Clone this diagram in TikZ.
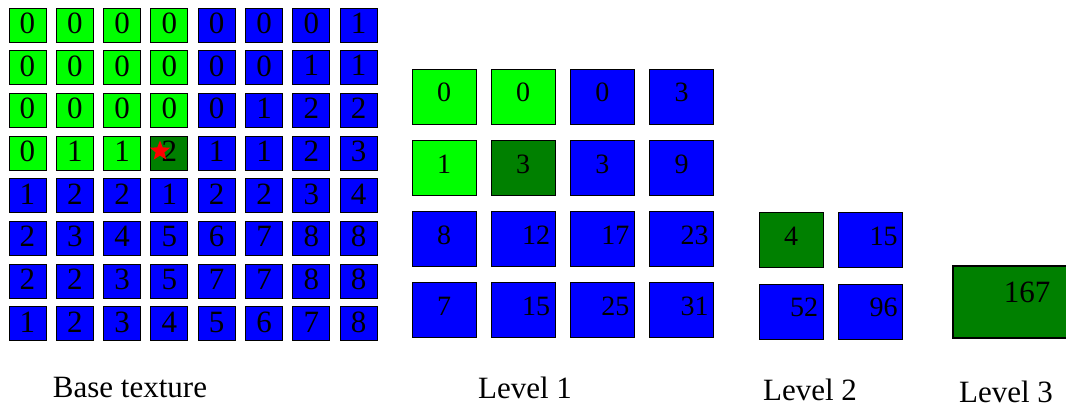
\documentclass[tikz,border=0pt]{standalone}
\usepackage{fontspec}
\setmainfont{Liberation Serif}
\usepackage{tikz}
\usetikzlibrary{shapes.geometric}
\definecolor{texgreen}{HTML}{00FF00}
\definecolor{texblue} {HTML}{0000FF}
\definecolor{texhit}  {HTML}{008000}
\tikzset{
  basecell/.style={draw=black, line width=0.9pt, minimum width=37pt, minimum height=34pt,
                   inner sep=0pt, text depth=4pt, font=\fontsize{31}{31}\selectfont},
  lvcell/.style={draw=black, line width=0.9pt, minimum width=64pt, minimum height=55pt,
                 inner sep=0pt, text depth=8pt, font=\fontsize{28}{28}\selectfont},
  topcell/.style={lvcell, line width=1.6pt, minimum width=160pt, minimum height=72pt,
                  text depth=20pt, font=\fontsize{31}{31}\selectfont},
  lvlabel/.style={anchor=base, font=\fontsize{31}{31}\selectfont},
}
\newcommand{\lvnum}[1]{\ifnum#1>9 \hspace*{26pt}\fi#1}

\begin{document}
\begin{tikzpicture}[x=1pt, y=-1pt]
  \useasboundingbox (0,0) rectangle (1066,408);

  % base texture
  \foreach \vals [count=\r] in {{0,0,0,0,0,0,0,1},{0,0,0,0,0,0,1,1},{0,0,0,0,0,1,2,2},
                                {0,1,1,2,1,1,2,3},{1,2,2,1,2,2,3,4},{2,3,4,5,6,7,8,8},
                                {2,2,3,5,7,7,8,8},{1,2,3,4,5,6,7,8}} {
    \foreach \v [count=\c] in \vals {
      \def\cellfill{texblue}
      \ifnum\r<5 \ifnum\c<5 \def\cellfill{texgreen}\fi\fi
      \ifnum\r=4 \ifnum\c=4 \def\cellfill{texhit}\fi\fi
      \node[basecell, fill=\cellfill] (b\r\c) at ({27.5+(\c-1)*47.3},{25+(\r-1)*42.7}) {\v};
    }
  }
  \node[star, star points=5, star point ratio=2.3, fill=red, inner sep=0pt,
        minimum size=21pt] (hit) at (160,151) {};

  % level 1
  \foreach \vals [count=\r] in {{0,0,0,3},{1,3,3,9},{8,12,17,23},{7,15,25,31}} {
    \foreach \v [count=\c] in \vals {
      \def\cellfill{texblue}
      \ifnum\r<3 \ifnum\c<3 \def\cellfill{texgreen}\fi\fi
      \ifnum\r=2 \ifnum\c=2 \def\cellfill{texhit}\fi\fi
      \node[lvcell, fill=\cellfill] (l\r\c) at ({444+(\c-1)*79.2},{96.5+(\r-1)*71.3}) {\lvnum{\v}};
    }
  }

  % level 2
  \foreach \vals [count=\r] in {{4,15},{52,96}} {
    \foreach \v [count=\c] in \vals {
      \def\cellfill{texblue}
      \ifnum\r=1 \ifnum\c=1 \def\cellfill{texhit}\fi\fi
      \node[lvcell, fill=\cellfill] (m\r\c) at ({791+(\c-1)*79.5},{240+(\r-1)*71.5}) {\lvnum{\v}};
    }
  }

  % level 3
  \node[topcell, fill=texhit] (top) at (1033,302) {\hspace*{-12pt}167};

  \node[lvlabel] (basename) at (130,397)  {Base texture};
  \node[lvlabel] (lv1name)  at (525,398)  {Level 1};
  \node[lvlabel] (lv2name)  at (810,400)  {Level 2};
  \node[lvlabel] (lv3name)  at (1006,402) {Level 3};
\end{tikzpicture}
\end{document}
